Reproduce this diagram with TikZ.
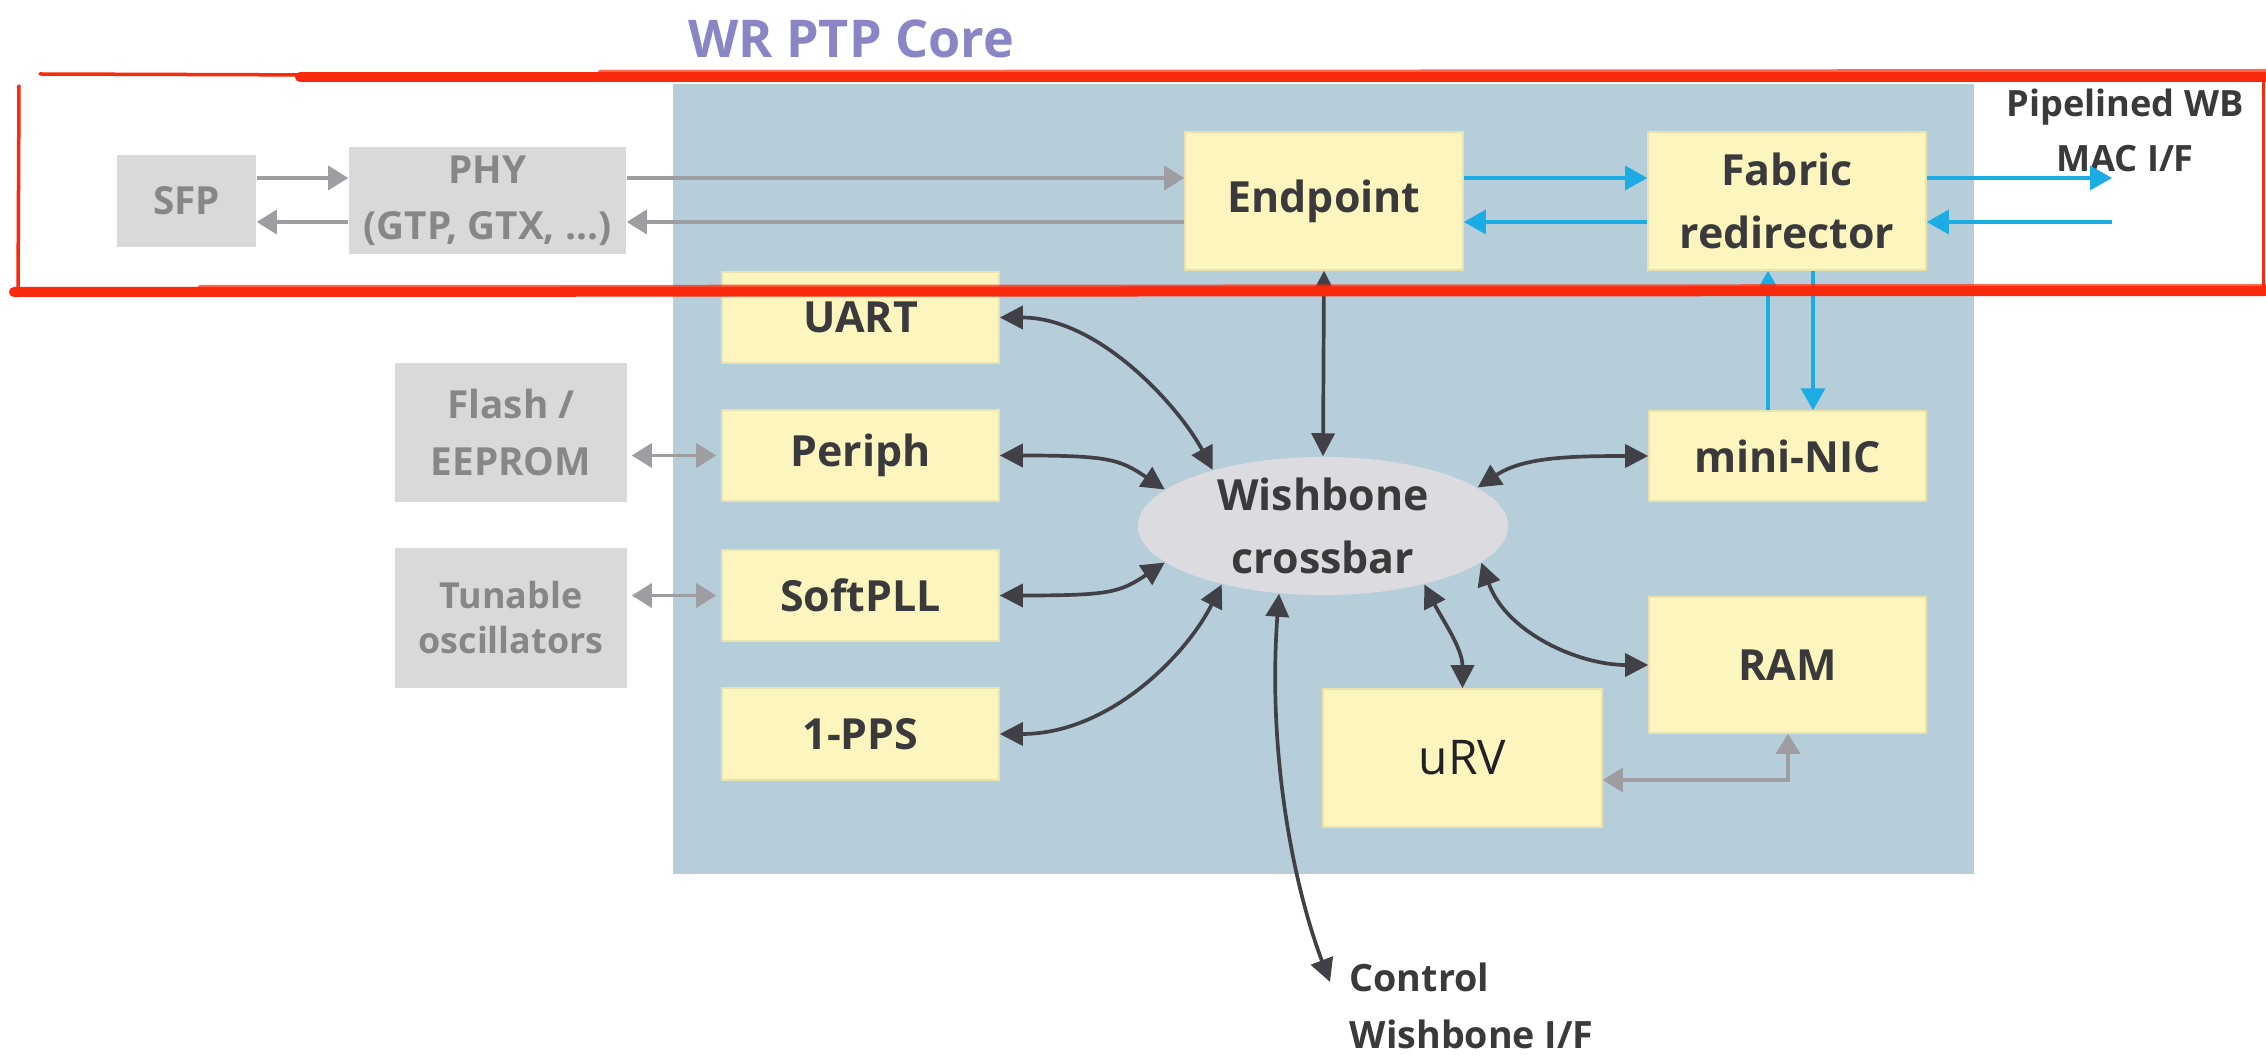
\documentclass[tikz,border=0pt]{standalone}
\usepackage{fontspec}
\setmainfont{Open Sans}
\usetikzlibrary{arrows.meta,calc,shapes.geometric}

\definecolor{corebg}{RGB}{182,206,218}
\definecolor{blockfill}{RGB}{252,245,190}
\definecolor{blockedge}{RGB}{234,227,175}
\definecolor{extfill}{RGB}{217,217,219}
\definecolor{exttext}{RGB}{135,135,138}
\definecolor{darktext}{RGB}{58,58,60}
\definecolor{busfill}{RGB}{220,220,224}
\definecolor{wire}{RGB}{64,64,70}
\definecolor{greywire}{RGB}{158,158,162}
\definecolor{streamblue}{RGB}{28,172,228}
\definecolor{titlecol}{RGB}{138,134,198}
\definecolor{marker}{RGB}{250,42,12}

\begin{document}
\begin{tikzpicture}[x=0.01cm,y=-0.01cm,
  block/.style={rectangle, fill=blockfill, draw=blockedge, line width=0.4pt,
    inner sep=0pt, text=darktext, align=center,
    font=\fontsize{12.2}{18}\selectfont\bfseries},
  ext/.style={rectangle, fill=extfill, inner sep=0pt, text=exttext, align=center,
    font=\fontsize{11}{16}\selectfont\bfseries},
  bus/.style={ellipse, fill=busfill, inner sep=0pt},
  label/.style={inner sep=0pt, text=darktext, align=center,
    font=\fontsize{12.2}{18}\selectfont\bfseries},
  link/.style={draw=wire, line width=1.05pt,
    arrows={Triangle[length=0.23cm,width=0.23cm]-Triangle[length=0.23cm,width=0.23cm]}},
  greyarrow/.style={draw=greywire, line width=1pt,
    >={Triangle[length=0.2cm,width=0.24cm]}},
  stream/.style={draw=streamblue, line width=0.95pt,
    >={Triangle[length=0.22cm,width=0.24cm]}},
  markerline/.style={draw=marker, line cap=round}
]
% canvas
\useasboundingbox (0,0) rectangle (2266,1055);
\fill[white] (0,0) rectangle (2266,1055);

% core area
\fill[corebg] (673,84) rectangle (1974,874);
\node[inner sep=0pt, anchor=base, text=titlecol,
  font=\fontsize{14.8}{18}\selectfont\bfseries] (title) at (851,58) {WR PTP Core};

% row levels and free ends
\coordinate (upper) at (0,178);
\coordinate (lower) at (0,222);
\coordinate (macout) at (2112,178);
\coordinate (macin) at (2112,222);
\coordinate (vup) at (1768,0);
\coordinate (vdn) at (1813,0);
\coordinate (urvram) at (1788,780);
\coordinate (ctrl) at (1330,982);

% external parts
\node[ext, minimum width=1.39cm, minimum height=0.92cm] (sfp) at (186.5,201) {SFP};
\node[ext, minimum width=2.77cm, minimum height=1.07cm] (phy) at (487.5,200.5) {PHY\\(GTP, GTX, ...)};
\node[ext, minimum width=2.32cm, minimum height=1.39cm] (flash) at (511,432.5) {Flash /\\EEPROM};
\node[ext, minimum width=2.32cm, minimum height=1.40cm,
  font=\fontsize{10.2}{12.8}\selectfont\bfseries] (osc) at (511,618) {Tunable\\oscillators};

% core blocks
\node[block, minimum width=2.78cm, minimum height=1.38cm] (ep) at (1324,201) {Endpoint};
\node[block, minimum width=2.78cm, minimum height=1.38cm] (fab) at (1787,201) {Fabric\\redirector};
\node[block, minimum width=2.77cm, minimum height=0.91cm] (uart) at (860.5,317.5) {UART};
\node[block, minimum width=2.77cm, minimum height=0.91cm] (periph) at (860.5,455.5) {Periph};
\node[block, minimum width=2.77cm, minimum height=0.91cm] (softpll) at (860.5,595.5) {SoftPLL};
\node[block, minimum width=2.77cm, minimum height=0.92cm] (pps) at (860.5,734) {1-PPS};
\node[block, minimum width=2.77cm, minimum height=0.90cm] (nic) at (1787.5,456) {mini-NIC};
\node[block, minimum width=2.77cm, minimum height=1.36cm] (ram) at (1787.5,665) {RAM};
\node[block, minimum width=2.79cm, minimum height=1.38cm, text={rgb,255:red,34;green,34;blue,36},
  font=\fontsize{13.6}{18}\selectfont] (urv) at (1462.5,758) {uRV};

% crossbar
\node[bus, minimum width=3.70cm, minimum height=1.38cm] (wb) at (1323,526) {};
\node[label] (wbtext) at (wb) {Wishbone\\crossbar};

% outside labels
\node[label, font=\fontsize{10.3}{15.6}\selectfont\bfseries] (mactext) at (2125,130) {Pipelined WB\\MAC I/F};
\node[label, anchor=west, align=left, font=\fontsize{10.7}{16.2}\selectfont\bfseries] (ctrltext) at (1349,1006) {Control\\Wishbone I/F};

% grey data path
\draw[greyarrow, ->] (sfp.east |- upper) -- (phy.west |- upper);
\draw[greyarrow, <-] (sfp.east |- lower) -- (phy.west |- lower);
\draw[greyarrow, ->] (phy.east |- upper) -- (ep.west |- upper);
\draw[greyarrow, <-] (phy.east |- lower) -- (ep.west |- lower);
\draw[greyarrow, <->, shorten <=0.04cm, shorten >=0.05cm] (flash.east |- periph.west) -- (periph.west);
\draw[greyarrow, <->, shorten <=0.04cm, shorten >=0.05cm] (osc.east |- softpll.west) -- (softpll.west);
\draw[greyarrow, <->] (urv.east |- urvram) -- (urvram) -- (ram.south -| urvram);

% fabric streams
\draw[stream, ->] (ep.east |- upper) -- (fab.west |- upper);
\draw[stream, <-] (ep.east |- lower) -- (fab.west |- lower);
\draw[stream, ->] (fab.east |- upper) -- (macout);
\draw[stream, <-] (fab.east |- lower) -- (macin);
\draw[stream, ->] (nic.north -| vup) -- (fab.south -| vup);
\draw[stream, ->] (fab.south -| vdn) -- (nic.north -| vdn);

% wishbone links
\draw[link] (ep.south) -- (wb.north);
\draw[link] (uart.east) .. controls +(100,0) and +(-33,-62) .. (wb.153);
\draw[link] (periph.east) .. controls +(110,0) and +(-45,-30) .. (wb.167);
\draw[link] (softpll.east) .. controls +(110,0) and +(-45,30) .. (wb.193);
\draw[link] (pps.east) .. controls +(110,0) and +(-35,70) .. (wb.210);
\draw[link] (wb.14) .. controls +(45,-30) and +(-80,0) .. (nic.west);
\draw[link] (wb.347) .. controls +(25,70) and +(-70,0) .. (ram.west);
\draw[link] (wb.330) .. controls +(18,35) and +(0,-40) .. (urv.north);
\draw[link] (wb.237) .. controls +(-12,164) and +(-35,-92) .. (ctrl);

% red highlight frame
\draw[markerline, line width=0.035cm] (40,74) -- (330,75);
\draw[markerline, line width=0.10cm] (300,77) -- (2266,77);
\draw[markerline, line width=0.04cm, opacity=0.7] (600,72) -- (2266,71);
\draw[markerline, line width=0.10cm] (14,292) -- (2266,291);
\draw[markerline, line width=0.04cm, opacity=0.7] (200,287) -- (2266,286);
\draw[markerline, line width=0.035cm] (19,86) -- (18,296);
\draw[markerline, line width=0.03cm] (2263,80) -- (2263,290);
\end{tikzpicture}
\end{document}
